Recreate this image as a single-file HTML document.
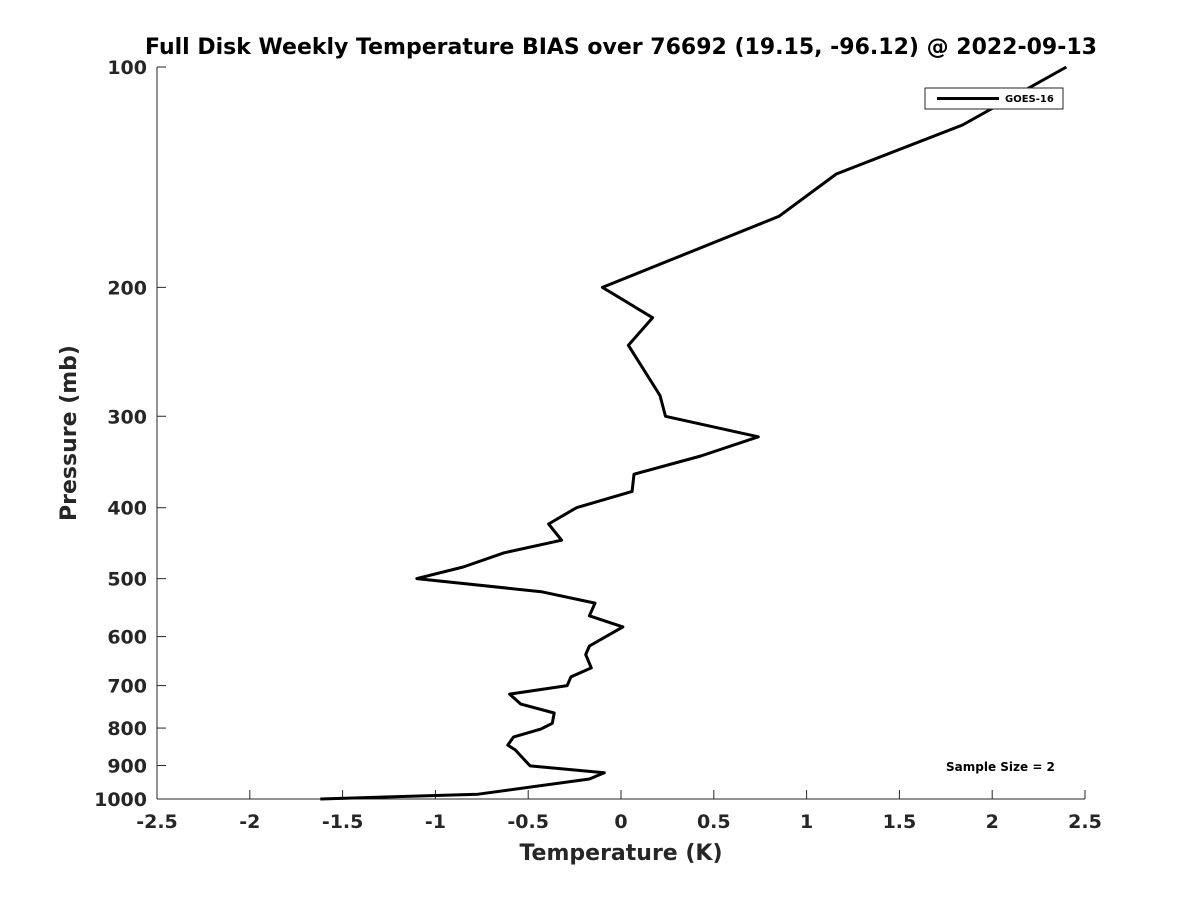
<!DOCTYPE html>
<html><head><meta charset="utf-8"><style>
body{margin:0;background:#fff;font-family:"Liberation Sans","DejaVu Sans",sans-serif;}
svg text{font-family:"DejaVu Sans","Liberation Sans",sans-serif;font-weight:bold;fill:#262626;}
</style></head><body>
<svg id="chart" width="1200" height="900" viewBox="0 0 1200 900" xmlns="http://www.w3.org/2000/svg">
<rect width="1200" height="900" fill="#fff"/>
<text x="621" y="54" text-anchor="middle" font-size="22" style="fill:#000">Full Disk Weekly Temperature BIAS over 76692 (19.15, -96.12) @ 2022-09-13</text>
<g id="axes"></g>
<path id="series" fill="none" stroke="#000" stroke-width="3" stroke-linejoin="round"/>
<g>
<rect x="925" y="88" width="138" height="21" fill="#fff" stroke="#262626" stroke-width="1"/>
<line x1="937" y1="98.5" x2="999" y2="98.5" stroke="#000" stroke-width="3"/>
<text x="1005" y="102" font-size="10" style="fill:#000">GOES-16</text>
</g>
<text x="946" y="771" font-size="12" style="fill:#000">Sample Size = 2</text>
<text x="621" y="860" text-anchor="middle" font-size="22">Temperature (K)</text>
<text transform="translate(76,433) rotate(-90)" text-anchor="middle" font-size="22">Pressure (mb)</text>
</svg>
<script>
const pressures=[100,120,140,160,200,220,240,281,300,320,340,360,380,400,421,443,461,482,500,521,540,562,582,618,635,662,681,700,719,742,763,788,802,823,844,857,901,921,939,985,1000];
const temps=[2.40,1.84,1.16,0.85,-0.10,0.17,0.04,0.21,0.24,0.74,0.43,0.07,0.06,-0.24,-0.39,-0.32,-0.63,-0.85,-1.10,-0.43,-0.14,-0.17,0.01,-0.17,-0.19,-0.16,-0.27,-0.29,-0.60,-0.54,-0.36,-0.37,-0.43,-0.58,-0.61,-0.57,-0.49,-0.09,-0.17,-0.77,-1.62];
const xTicks=[-2.5,-2,-1.5,-1,-0.5,0,0.5,1,1.5,2,2.5];
const yTicks=[100,200,300,400,500,600,700,800,900,1000];
const L=157,R=1085,T=67,B=799;
function xs(v){return L+(v+2.5)/5*(R-L);}
function ys(p){return T+Math.log10(p/100)*(B-T);}
const NS="http://www.w3.org/2000/svg";
const ax=document.getElementById('axes');
function mk(tag,attrs){const e=document.createElementNS(NS,tag);for(const k in attrs)e.setAttribute(k,attrs[k]);return e;}
const xl=mk('line',{x1:L,y1:B,x2:R,y2:B,stroke:'#262626','stroke-width':1});


ax.appendChild(xl);
const yl=mk('line',{x1:L,y1:T,x2:L,y2:B,stroke:'#262626','stroke-width':1});


ax.appendChild(yl);
xTicks.forEach(v=>{
  const x=xs(v);
  const t=mk('line',{x1:x,y1:B,x2:x,y2:B-9,stroke:'#262626'});
  
  
  ax.appendChild(t);
  const tx=mk('text',{x:x,y:B+29,'text-anchor':'middle','font-size':19});
  
  
  tx.textContent=String(v);ax.appendChild(tx);
});
yTicks.forEach(p=>{
  const y=ys(p);
  const t=mk('line',{x1:L,y1:y,x2:L+9,y2:y,stroke:'#262626'});
  
  
  ax.appendChild(t);
  const tx=mk('text',{x:L-10,y:y+7,'text-anchor':'end','font-size':19});
  
  
  tx.textContent=String(p);ax.appendChild(tx);
});
document.getElementById('series').setAttribute('d',temps.map((t,i)=>(i?'L':'M')+xs(t).toFixed(1)+','+ys(pressures[i]).toFixed(1)).join(' '));
</script>
</body></html>
